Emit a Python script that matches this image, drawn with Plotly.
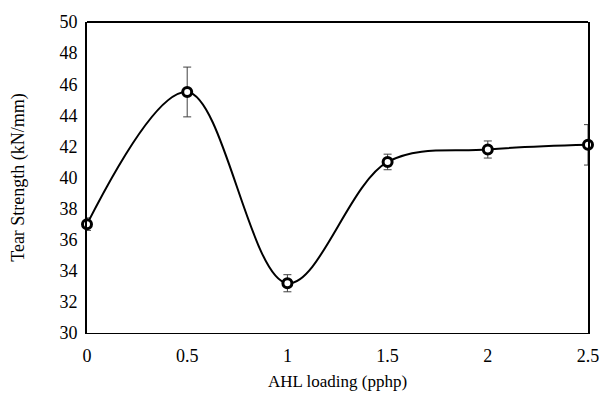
import plotly.graph_objects as go

ahl_loading = [0, 0.5, 1, 1.5, 2, 2.5]
tear_strength = [37.0, 45.5, 33.2, 41.0, 41.8, 42.1]
error = [0.4, 1.6, 0.55, 0.5, 0.55, 1.3]
x_ticks = [0, 0.5, 1, 1.5, 2, 2.5]
y_ticks = [30, 32, 34, 36, 38, 40, 42, 44, 46, 48, 50]

font_family = "Liberation Serif"

fig = go.Figure()
fig.add_trace(go.Scatter(
    x=ahl_loading, y=tear_strength,
    mode="lines+markers",
    line=dict(color="black", width=2, shape="spline", smoothing=1),
    marker=dict(size=9, color="white", line=dict(color="black", width=3)),
    error_y=dict(type="data", array=error, visible=True, color="#404040",
                 thickness=1, width=4),
    cliponaxis=False,
    showlegend=False,
))

fig.update_layout(
    width=611, height=407,
    margin=dict(l=87, r=23, t=18, b=74),
    plot_bgcolor="white", paper_bgcolor="white",
    font=dict(family=font_family, size=18, color="black"),
    xaxis=dict(
        range=[0, 2.5], tickvals=x_ticks, ticktext=[str(t) for t in x_ticks],
        showgrid=False, zeroline=False, showline=True, linecolor="black",
        linewidth=1, ticks="", ticklen=0, ticklabelstandoff=6,
        title=dict(text="AHL loading (pphp)", font=dict(size=17), standoff=10),
    ),
    yaxis=dict(
        range=[30, 50], tickvals=y_ticks,
        showgrid=False, zeroline=False, showline=True, linecolor="black",
        linewidth=2, mirror=True, ticks="", ticklen=0, ticklabelstandoff=4,
        title=dict(text="Tear Strength (kN/mm)", font=dict(size=18), standoff=30),
    ),
    shapes=[dict(type="line", xref="paper", yref="paper", x0=0, x1=1, y0=1, y1=1,
                 line=dict(color="black", width=2))],
)

fig.write_html("out.html")
